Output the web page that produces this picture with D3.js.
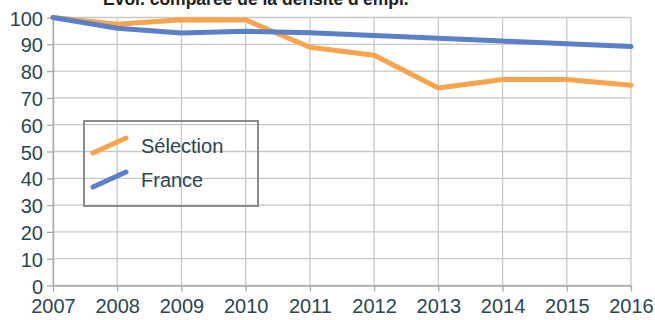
<!DOCTYPE html>
<html>
<head>
<meta charset="utf-8">
<script src="https://cdn.jsdelivr.net/npm/d3@7"></script>
<style>
  html, body { margin: 0; padding: 0; background: #fff; }
  svg { display: block; }
  text { font-family: "Liberation Sans", Arial, sans-serif; }
</style>
</head>
<body>
<svg id="chart" width="655" height="320"></svg>
<script>
// Employment density index, base 100 in 2007
const years = [2007, 2008, 2009, 2010, 2011, 2012, 2013, 2014, 2015, 2016];
const selection = [100, 97.5, 99.2, 99.1, 88.9, 85.9, 73.7, 76.9, 76.9, 74.7];
const france = [100, 96, 94.2, 94.9, 94.3, 93.3, 92.3, 91.2, 90.2, 89.2];
const yTicks = [0, 10, 20, 30, 40, 50, 60, 70, 80, 90, 100];
const seriesNames = ["Sélection", "France"];
const title = "Evol. comparée de la densité d'empl.";

const colors = ["#f7a44c", "#5b7fc9"];
const textColor = "#2a4651";
const gridColor = "#c8c8c8";

const svg = d3.select("#chart");
const margin = { left: 53, right: 24, top: 17.5, bottom: 34.5 };
const W = 655, H = 320;

const x = d3.scaleLinear()
  .domain([years[0], years[years.length - 1]])
  .range([margin.left, W - margin.right]);
const y = d3.scaleLinear()
  .domain([0, 100])
  .range([H - margin.bottom, margin.top]);

// title (runs off the top edge)
svg.append("text")
  .attr("x", 103).attr("y", 5)
  .attr("font-size", 17.5).attr("font-weight", "bold")
  .attr("fill", "#222")
  .text(title);

// grid
const grid = svg.append("g");
grid.selectAll("line.h").data(yTicks).join("line")
  .attr("x1", margin.left).attr("x2", W - margin.right)
  .attr("y1", d => y(d)).attr("y2", d => y(d))
  .attr("stroke", gridColor).attr("stroke-width", 1.3);
grid.selectAll("line.v").data(years).join("line")
  .attr("x1", d => x(d)).attr("x2", d => x(d))
  .attr("y1", y(100)).attr("y2", y(0))
  .attr("stroke", gridColor).attr("stroke-width", 1.3);

// axes
const yAxis = svg.append("g")
  .attr("transform", `translate(${margin.left},0)`)
  .call(d3.axisLeft(y).tickValues(yTicks).tickSize(6).tickPadding(4).tickSizeOuter(0));
const xAxis = svg.append("g")
  .attr("transform", `translate(0,${y(0)})`)
  .call(d3.axisBottom(x).tickValues(years).tickFormat(d3.format("d")).tickSize(6).tickPadding(5).tickSizeOuter(0));

[yAxis, xAxis].forEach(g => {
  g.select(".domain").attr("stroke", "#a8a8a8").attr("stroke-width", 1.3);
  g.selectAll(".tick line").attr("stroke", "#a8a8a8").attr("stroke-width", 1.3);
  g.selectAll(".tick text")
    .attr("fill", textColor)
    .attr("font-size", 20)
    .attr("font-family", "'Liberation Sans', Arial, sans-serif");
});
yAxis.selectAll(".tick text").attr("dy", "0.38em");
xAxis.selectAll(".tick text").attr("dy", "0.8em");

// series lines
const line = d3.line()
  .x((d, i) => x(years[i]))
  .y(d => y(d));

[selection, france].forEach((s, k) => {
  svg.append("path")
    .datum(s)
    .attr("d", line)
    .attr("fill", "none")
    .attr("stroke", colors[k])
    .attr("stroke-width", 5)
    .attr("stroke-linejoin", "round")
    .attr("stroke-linecap", "round");
});

// legend
const lg = svg.append("g").attr("transform", "translate(84,121)");
lg.append("rect")
  .attr("width", 174).attr("height", 85)
  .attr("fill", "none").attr("stroke", "#8c8c8c").attr("stroke-width", 2);
seriesNames.forEach((name, k) => {
  const cy = 25 + k * 34;
  lg.append("line")
    .attr("x1", 9).attr("y1", cy + 7)
    .attr("x2", 42).attr("y2", cy - 8)
    .attr("stroke", colors[k]).attr("stroke-width", 5)
    .attr("stroke-linecap", "round");
  lg.append("text")
    .attr("x", 57).attr("y", cy + 7)
    .attr("font-size", 20).attr("fill", textColor)
    .text(name);
});
</script>
</body>
</html>
